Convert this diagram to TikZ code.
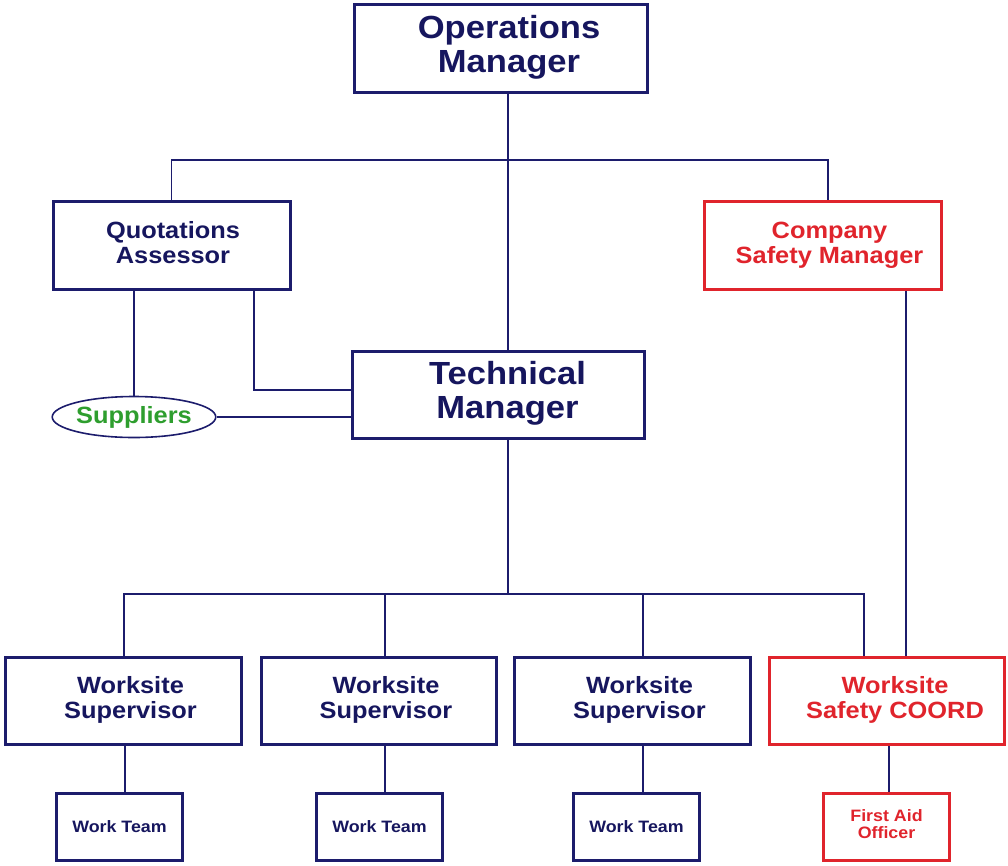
\documentclass[tikz,border=0pt]{standalone}
\usepackage{fontspec}
\setmainfont{Liberation Sans}[FakeStretch=1.08]
\usetikzlibrary{shapes.geometric}
\definecolor{navy}{HTML}{1C1C6C}
\definecolor{navytext}{HTML}{16165E}
\definecolor{redbox}{HTML}{E0242C}
\definecolor{greentext}{HTML}{2E9E2E}
\newcommand\shifted[2]{\begin{tabular}{@{\hspace{#1}}c@{}}#2\end{tabular}}
\tikzset{
  box/.style={draw=navy, line width=3pt, rectangle, inner sep=0pt, text=navytext, font=\bfseries},
  redbx/.style={box, draw=redbox, text=redbox},
  bigtxt/.style={font=\fontsize{32}{34}\selectfont\bfseries},
  medtxt/.style={font=\fontsize{23.5}{25}\selectfont\bfseries},
  smalltxt/.style={font=\fontsize{16.5}{17}\selectfont\bfseries},
  conn/.style={draw=navy, line width=1.6pt},
}
\begin{document}
\begin{tikzpicture}[x=1pt,y=-1pt]
\useasboundingbox (0,0) rectangle (1008,865);
% top level
\node[box,bigtxt,minimum width=293pt,minimum height=88pt] (ops) at (501,48.5)
  {\shifted{16pt}{Operations\\Manager}};
\node[box,medtxt,minimum width=237pt,minimum height=88pt] (qa) at (171.5,245.5)
  {\shifted{3pt}{Quotations\\Assessor}};
\node[redbx,medtxt,minimum width=237pt,minimum height=88pt] (csm) at (823,245.5)
  {\shifted{13pt}{Company\\Safety Manager}};
\node[box,bigtxt,minimum width=292pt,minimum height=87pt] (tech) at (498.5,395)
  {\shifted{18pt}{Technical\\Manager}};
\node[ellipse,draw=navy,line width=1.6pt,inner sep=0pt,minimum width=143pt,minimum height=41pt,
  text=greentext,medtxt] (sup) at (134,417) {Suppliers};
% worksite supervisors
\node[box,medtxt,minimum width=236pt,minimum height=87pt] (ws1) at (123.5,701)
  {\shifted{14pt}{Worksite\\Supervisor}};
\node[box,medtxt,minimum width=235pt,minimum height=87pt] (ws2) at (379,701)
  {\shifted{14pt}{Worksite\\Supervisor}};
\node[box,medtxt,minimum width=236pt,minimum height=87pt] (ws3) at (632.5,701)
  {\shifted{14pt}{Worksite\\Supervisor}};
\node[redbx,medtxt,minimum width=235pt,minimum height=87pt] (ws4) at (887,701)
  {\shifted{16pt}{Worksite\\Safety COORD}};
% teams
\node[box,smalltxt,minimum width=126pt,minimum height=67pt] (wt1) at (119.5,827) {Work Team};
\node[box,smalltxt,minimum width=126pt,minimum height=67pt] (wt2) at (379.5,827) {Work Team};
\node[box,smalltxt,minimum width=126pt,minimum height=67pt] (wt3) at (636.5,827) {Work Team};
\node[redbx,smalltxt,minimum width=126pt,minimum height=67pt] (fa) at (886.5,827)
  {\shifted{0pt}{First Aid\\Officer}};
% helper coordinates
\coordinate (bus1) at (508,160);
\coordinate (bus2) at (508,594);
\coordinate (xcsm) at (828,0);
\coordinate (xcsmb) at (906,0);
\coordinate (xqa) at (254,0);
\coordinate (x1) at (124,0);
\coordinate (x2) at (385,0);
\coordinate (x3) at (643,0);
\coordinate (x4) at (864,0);
\coordinate (y1) at (125,0);
\coordinate (y4) at (889,0);
% connectors
\draw[conn] (ops.south -| bus1) -- (tech.north -| bus1);
\draw[conn] (qa.north) |- (bus1) -| (csm.north -| xcsm);
\draw[conn] (sup.north |- qa.south) -- (sup.north);
\draw[conn] (qa.south -| xqa) |- ([yshift=5pt]tech.west);
\draw[conn] (sup.east) -- (sup.east -| tech.west);
\draw[conn] (tech.south -| bus2) -- (bus2);
\draw[conn] (ws1.north -| x1) |- (bus2) -| (ws4.north -| x4);
\draw[conn] (ws2.north -| x2) -- (bus2 -| x2);
\draw[conn] (ws3.north -| x3) -- (bus2 -| x3);
\draw[conn] (csm.south -| xcsmb) -- (ws4.north -| xcsmb);
\draw[conn] (ws1.south -| y1) -- (wt1.north -| y1);
\draw[conn] (ws2.south -| x2) -- (wt2.north -| x2);
\draw[conn] (ws3.south -| x3) -- (wt3.north -| x3);
\draw[conn] (ws4.south -| y4) -- (fa.north -| y4);
\end{tikzpicture}
\end{document}
